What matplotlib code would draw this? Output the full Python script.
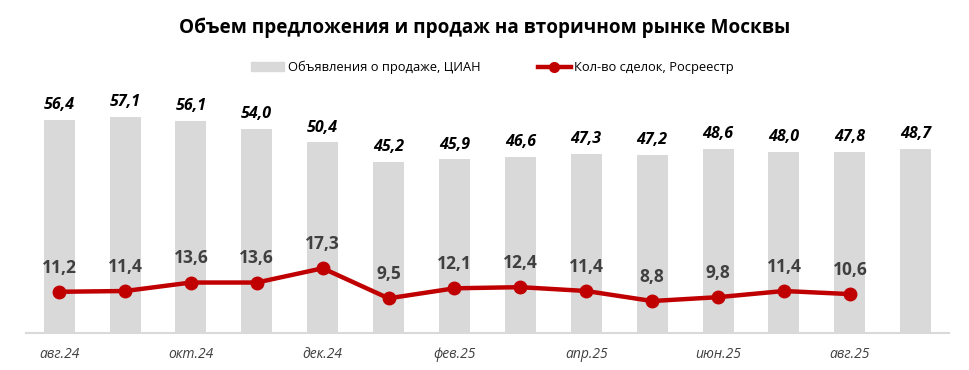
import matplotlib
matplotlib.use("Agg")
import matplotlib.pyplot as plt
import numpy as np
from matplotlib.patches import Patch
from matplotlib.lines import Line2D

months = ["авг.24", "сен.24", "окт.24", "ноя.24", "дек.24", "янв.25", "фев.25",
          "мар.25", "апр.25", "май.25", "июн.25", "июл.25", "авг.25", "сен.25"]
listings = [56.4, 57.1, 56.1, 54.0, 50.4, 45.2, 45.9, 46.6, 47.3, 47.2, 48.6, 48.0, 47.8, 48.7]
deals = [11.2, 11.4, 13.6, 13.6, 17.3, 9.5, 12.1, 12.4, 11.4, 8.8, 9.8, 11.4, 10.6]

title = "Объем предложения и продаж на вторичном рынке Москвы"
bar_name = "Объявления о продаже, ЦИАН"
line_name = "Кол-во сделок, Росреестр"

FONT = ["Open Sans", "DejaVu Sans"]
plt.rcParams['font.family'] = FONT

BAR_C = "#D9D9D9"
LINE_C = "#C00000"

fig = plt.figure(figsize=(9.7, 3.7), dpi=100)
ax = fig.add_axes([0.027, 0.1, 0.951, 0.657])
ax2 = ax.twinx()

x = np.arange(len(listings))
ax.bar(x, listings, width=0.47, color=BAR_C, zorder=1)
ax.set_xlim(-0.5, len(listings) - 0.5)
ax.set_ylim(0, 64.3)

xl = np.arange(len(deals))
ax2.plot(xl, deals, color=LINE_C, lw=3.2, marker="o", ms=9, zorder=3)
ax2.set_ylim(0.5, 63.6)

for xi, v in zip(x, listings):
    ax.annotate(f"{v:.1f}".replace(".", ","), (xi, v), xytext=(0, 5), textcoords="offset points",
                ha="center", va="bottom", fontsize=11.5, fontweight="bold", fontstyle="italic",
                color="black")
for xi, v in zip(xl, deals):
    ax2.annotate(f"{v:.1f}".replace(".", ","), (xi, v), xytext=(0, 11), textcoords="offset points",
                 ha="center", va="bottom", fontsize=12.5, fontweight="bold", color="#404040")

for a in (ax, ax2):
    for s in ["top", "right", "left"]:
        a.spines[s].set_visible(False)
    a.set_yticks([])
ax2.spines["bottom"].set_visible(False)
ax.spines["bottom"].set_color("#D9D9D9")
ax.spines["bottom"].set_linewidth(1.5)

ticks = list(range(0, len(months), 2))
ax.set_xticks(ticks)
ax.set_xticklabels([months[i] for i in ticks], fontsize=10, fontstyle="italic", color="#404040")
ax.tick_params(axis="x", length=0, pad=10)

fig.text(0.5, 0.925, title, ha="center", va="center", fontsize=13.7, fontweight="bold")

handles = [Patch(color=BAR_C), Line2D([], [], color=LINE_C, lw=3.2, marker="o", ms=7)]
fig.legend(handles, [bar_name, line_name], loc="center", bbox_to_anchor=(0.508, 0.817), ncol=2,
           frameon=False, fontsize=9.3, columnspacing=4.5, handlelength=2.5, handletextpad=0.3)

fig.savefig("out.png", dpi=100)
